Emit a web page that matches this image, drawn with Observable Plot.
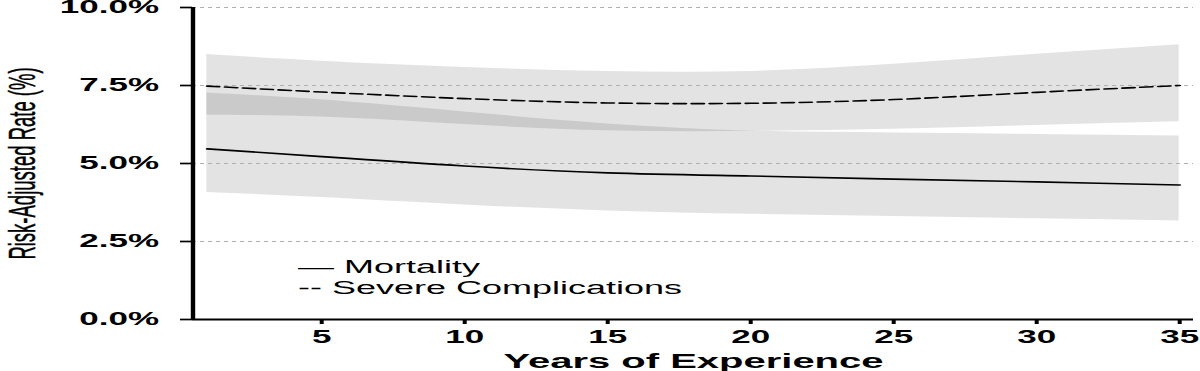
<!DOCTYPE html>
<html>
<head>
<meta charset="utf-8">
<script src="https://cdn.jsdelivr.net/npm/d3@7"></script>
<script src="https://cdn.jsdelivr.net/npm/@observablehq/plot@0.6"></script>
<style>
  html, body { margin: 0; padding: 0; background: white; }
  #chart { width: 1200px; height: 371px; overflow: hidden; }
</style>
</head>
<body>
<div id="chart"></div>
<script>
// ---- data ----
const years      = [1, 5, 10, 15, 20, 25, 30, 35];
const mortality  = [5.47, 5.22, 4.92, 4.70, 4.60, 4.50, 4.41, 4.31];
const mortLower  = [4.07, 3.91, 3.67, 3.48, 3.37, 3.30, 3.23, 3.16];
const mortUpper  = [7.26, 7.04, 6.65, 6.27, 6.04, 5.98, 5.93, 5.88];
const severe     = [7.48, 7.29, 7.08, 6.94, 6.93, 7.05, 7.28, 7.50];
const sevLower   = [6.55, 6.49, 6.25, 6.05, 6.03, 6.10, 6.22, 6.34];
const sevUpper   = [8.49, 8.28, 8.08, 7.95, 7.95, 8.18, 8.50, 8.81];
const yTicks     = [0, 2.5, 5, 7.5, 10];
const xTicks     = [5, 10, 15, 20, 25, 30, 35];
const xDomain    = [0.5, 35.5];
const yDomain    = [0, 10];
const legendLabels = ["— Mortality", "-- Severe Complications"];
const xLabel = "Years of Experience";
const yLabel = "Risk-Adjusted Rate (%)";

const rows = years.map((x, i) => ({
  x, mort: mortality[i], mLo: mortLower[i], mHi: mortUpper[i],
  sev: severe[i], sLo: sevLower[i], sHi: sevUpper[i]
}));

const W = 600, H = 371; // drawn at half width, then stretched 2x horizontally
const font = "'Liberation Sans', Arial, Helvetica, sans-serif";

const svg = Plot.plot({
  width: W,
  height: H,
  marginLeft: 96,
  marginRight: 3.5,
  marginTop: 7,
  marginBottom: 52,
  style: { fontFamily: font, background: "white", color: "black", overflow: "visible" },
  x: { domain: xDomain },
  y: { domain: yDomain },
  marks: [
    Plot.areaY(rows, { x: "x", y1: "mLo", y2: "mHi", fill: "black", fillOpacity: 0.11, curve: "natural" }),
    Plot.areaY(rows, { x: "x", y1: "sLo", y2: "sHi", fill: "black", fillOpacity: 0.11, curve: "natural" }),
    Plot.ruleY(yTicks.filter(d => d > 0), { stroke: "#b0b0b0", strokeWidth: 0.8, strokeDasharray: "2,2" }),
    Plot.lineY(rows, { x: "x", y: "mort", stroke: "black", strokeWidth: 1.6, curve: "natural" }),
    Plot.lineY(rows, { x: "x", y: "sev", stroke: "black", strokeWidth: 1.6, strokeDasharray: "6,3", curve: "natural" }),
    Plot.axisY({ ticks: yTicks, tickSize: 6, tickPadding: 11, tickFormat: d => d.toFixed(1) + "%",
                 fontSize: 17.5, fontWeight: "bold", strokeWidth: 1.7, label: null }),
    Plot.axisX({ ticks: xTicks, tickSize: 5, tickPadding: 6, tickFormat: d => String(d),
                 fontSize: 17.5, fontWeight: "bold", strokeWidth: 2, label: null }),
    Plot.ruleY([yDomain[0]], { stroke: "black", strokeWidth: 1.8 }),
    Plot.ruleX([xDomain[0]], { stroke: "black", strokeWidth: 2.2 }),
    Plot.text([xLabel], { text: d => d, frameAnchor: "bottom", dy: 42, lineAnchor: "middle",
                          fontSize: 20, fontWeight: "bold", fill: "black" }),
    Plot.text([yLabel], { text: d => d, frameAnchor: "left", dx: -85, rotate: -90,
                          textAnchor: "middle", lineAnchor: "middle",
                          fontSize: 18.5, fill: "black", stroke: "black", strokeWidth: 0.25 }),
    Plot.text([legendLabels[0]], { text: d => d, frameAnchor: "bottom-left", dx: 52.5, dy: -52,
                                   textAnchor: "start", lineAnchor: "middle", fontSize: 18, fill: "black" }),
    Plot.text([legendLabels[1]], { text: d => d, frameAnchor: "bottom-left", dx: 52.5, dy: -31,
                                   textAnchor: "start", lineAnchor: "middle", fontSize: 18, fill: "black" })
  ]
});

svg.setAttribute("width", 1200);
svg.setAttribute("height", H);
svg.setAttribute("viewBox", `0 0 ${W} ${H}`);
svg.setAttribute("preserveAspectRatio", "none");
svg.style.width = "1200px";
svg.style.height = H + "px";
svg.style.maxWidth = "none";
document.getElementById("chart").appendChild(svg);
</script>
</body>
</html>
